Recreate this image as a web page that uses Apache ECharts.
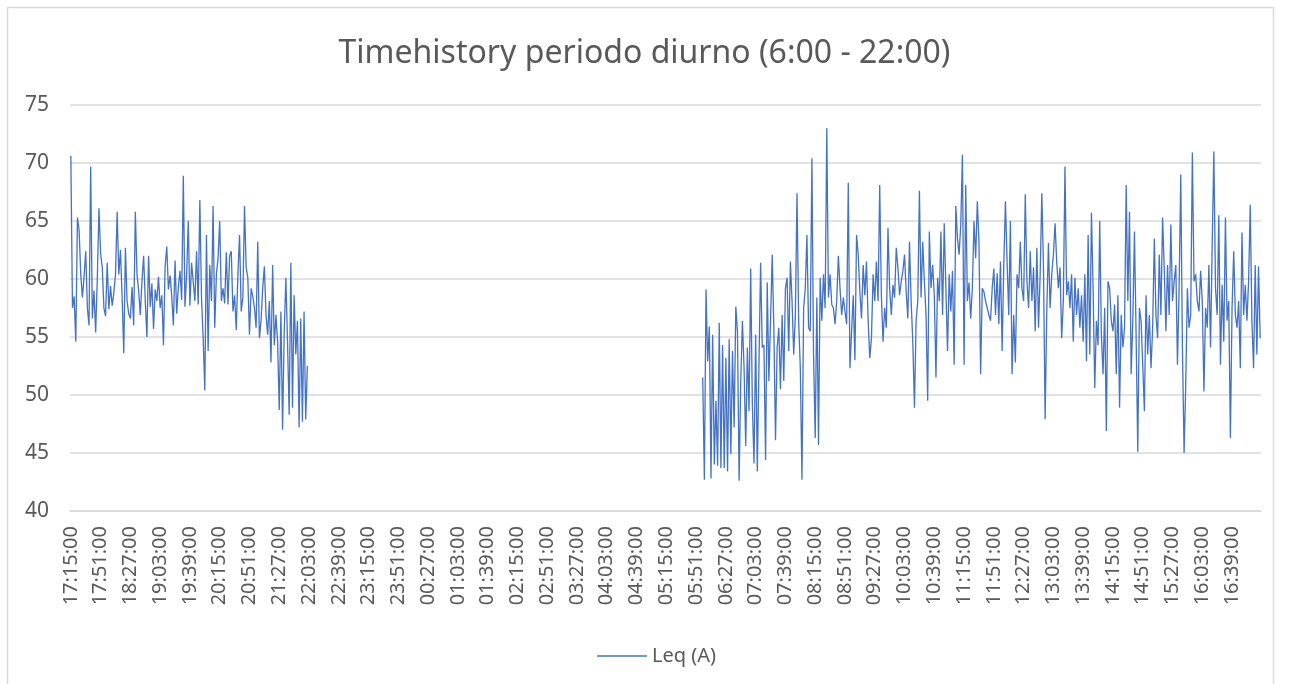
<!DOCTYPE html>
<html>
<head>
<meta charset="utf-8">
<title>Timehistory periodo diurno</title>
<script src="https://cdn.jsdelivr.net/npm/echarts@6/dist/echarts.min.js"></script>
<style>
  html, body { margin: 0; padding: 0; background: #fff; }
  #chart { width: 1289px; height: 684px; }
</style>
</head>
<body>
<div id="chart"></div>
<script>
// time axis: one category every 2 minutes starting 17:15:00, one day long
const startTime = "17:15:00";
const stepMinutes = 2;
const categoryCount = 720;
const labelEvery = 18; // a label every 36 minutes

const yTicks = [40, 45, 50, 55, 60, 65, 70, 75];

// Leq (A), evening 17:15 - 22:00
const eveningLeq = [
  70.6, 57.5, 58.5, 54.6, 65.3, 64.2, 60.4, 58.4, 60.2, 62.4,
  57.5, 56, 69.7, 56.6, 59, 55.4, 60, 66.1, 62.2, 61,
  57.5, 56.8, 61.4, 57.4, 59.4, 57.7, 58.8, 60.4, 65.8, 60.4,
  62.5, 58.5, 53.6, 62.7, 58.1, 57, 56.6, 59.3, 56, 65.8,
  60.4, 59, 56.9, 59.8, 62, 58.1, 55, 62, 57.6, 59.6,
  55.7, 59.1, 58.1, 60.2, 57.5, 58.6, 54.3, 61.1, 62.8, 59.1,
  60.3, 58.5, 56, 61.6, 57, 59.3, 60.7, 58.2, 68.9, 57.6,
  60.3, 65, 57.7, 61.4, 61.5, 58.1, 62.4, 57.8, 66.8, 58.4,
  54.9, 50.4, 63.8, 53.8, 61.2, 58.1, 66.3, 55.8, 60.4, 61.8,
  65, 58.1, 59.2, 57.9, 62.3, 57.8, 62, 62.4, 57.2, 58.6,
  55.6, 60.4, 63.8, 57.2, 58.4, 66.3, 61, 60.1, 55.2, 59.2,
  58.5, 57.5, 55.8, 63.2, 54.9, 56.4, 59.2, 61.1, 56.9, 55.2,
  58.1, 52.8, 61.2, 54.3, 56.9, 54.6, 48.7, 57.2, 47, 55.5,
  60.1, 54.6, 48.3, 61.4, 48.9, 58.6, 53.5, 56.4, 47.2, 56.6,
  47.7, 57.2, 47.9, 52.5
];

// Leq (A), day 06:00 - 17:14
const dayStartIndex = 382;
const dayLeq = [
  51.5, 42.7, 59.1, 52.9, 55.9, 42.8, 55.2, 44, 49.5, 43.9,
  56.2, 43.7, 54.3, 43.7, 53.2, 43.4, 54.8, 44.9, 53.8, 47.2,
  57.6, 55.5, 42.6, 51.2, 56.4, 52.3, 45.6, 54.1, 48.6, 60.9,
  49.2, 44.1, 55.2, 43.4, 52.6, 61.4, 54.1, 54.3, 44.4, 59.7,
  51.2, 56.4, 62.1, 55.8, 46.1, 54.1, 55.8, 50.5, 56.9, 51.2,
  59.2, 60.1, 53.8, 61.5, 58.1, 53.5, 56.9, 67.4, 56.4, 52.3,
  42.7, 57.5, 59.2, 63.8, 55.8, 55.5, 70.4, 53.5, 46.3, 58.4,
  45.7, 60.1, 56.4, 60.4, 57.5, 73, 58.4, 60.4, 57.8, 57.5,
  56.1, 58.1, 62, 59.2, 56.9, 58.4, 57.2, 56.1, 68.3, 52.3,
  55.5, 58.6, 53, 63.8, 62.1, 58.9, 56.6, 61.2, 58.6, 61.5,
  56.4, 53.2, 54.9, 60.4, 58.1, 61.5, 58.1, 68.1, 58.6, 54.6,
  57.5, 55.8, 64.4, 59.2, 56.9, 59.5, 58.4, 62.7, 61, 58.6,
  59.8, 60.7, 62.1, 58.9, 56.6, 63.2, 58.1, 54.6, 48.9, 56.4,
  58.1, 67.6, 58.4, 63.2, 59.8, 56.9, 49.5, 64.1, 59.2, 61.2,
  58.6, 51.5, 60.1, 58.1, 64.1, 56.9, 64.8, 59.2, 53.8, 60.4,
  57.2, 60.7, 52.6, 66.3, 63.5, 62.1, 64.7, 70.7, 52.6, 68.1,
  58.1, 59.7, 56.6, 59.2, 65, 61.8, 66.7, 63.2, 51.8, 59.2,
  58.9, 58.1, 57.5, 56.9, 56.4, 59.2, 60.9, 56.9, 60.5, 56.1,
  61.5, 53.8, 61.2, 66.7, 61.5, 56.9, 65, 51.8, 56.9, 52.8,
  60.4, 59.2, 63.2, 59.2, 58.1, 67.3, 59.8, 57.5, 62.4, 58.1,
  61, 55.5, 62.7, 55.8, 60.4, 67.4, 61, 47.9, 57.2, 63.1,
  57.5, 60.4, 62.1, 64.8, 61.5, 59.2, 61, 54.9, 58.1, 69.7,
  58.6, 59.8, 57.5, 60.4, 54.6, 60.1, 56.9, 59.2, 55.8, 58.6,
  54.6, 60.4, 52.9, 63.8, 53.5, 65.7, 59.2, 50.6, 56.4, 54.3,
  65, 55.2, 51.8, 57.5, 46.9, 59.8, 59.2, 56.4, 55.5, 57.8,
  51.8, 58.6, 48.9, 56.9, 54.1, 55.8, 68.1, 58.1, 65.8, 51.8,
  56.4, 64.1, 55.2, 45.1, 57.5, 56.4, 52.6, 48.6, 58.6, 53.5,
  56.9, 52.3, 55.8, 63.5, 56.9, 54.9, 62.1, 56.9, 65.3, 61,
  55.5, 61.2, 56.9, 64.7, 58.1, 59.8, 61.2, 52.6, 59.2, 69,
  54.1, 45, 50.9, 59.2, 55.8, 56.9, 70.9, 59.8, 60.4, 58.1,
  57.2, 60.7, 58.1, 50.3, 57.5, 55.8, 61.2, 54.1, 63, 71,
  59.2, 56.9, 65.5, 52.6, 59.5, 54.6, 65.3, 56.4, 58.1, 46.3,
  57.5, 62.4, 56.9, 55.8, 58.1, 52.3, 64, 56.9, 59.5, 56.4,
  59.8, 66.4, 56.4, 52.3, 61.2, 53.5, 61.1, 54.9
];

function pad(n) {
  return n < 10 ? "0" + n : "" + n;
}

const startParts = startTime.split(":");
const startMin = Number(startParts[0]) * 60 + Number(startParts[1]);
const categories = [];
for (let i = 0; i < categoryCount; i++) {
  const m = (startMin + i * stepMinutes) % 1440;
  categories.push(pad(Math.floor(m / 60)) + ":" + pad(m % 60) + ":00");
}

// nothing was measured between the two periods
const gap = new Array(dayStartIndex - eveningLeq.length).fill(null);
const leqData = eveningLeq.concat(gap, dayLeq);

const textColor = "#595959";
const gridColor = "#d9d9d9";
const lineColor = "#4472C4";
const font = "'Noto Sans', sans-serif";

const option = {
  animation: false,
  title: {
    text: "Timehistory periodo diurno (6:00 - 22:00)",
    left: "center",
    top: 33,
    textStyle: {
      color: textColor,
      fontSize: 32,
      fontWeight: "normal",
      fontFamily: font,
    },
  },
  legend: {
    left: 592,
    top: 641,
    icon: "rect",
    itemWidth: 50,
    itemHeight: 1.6,
    itemGap: 6,
    itemStyle: { color: lineColor },
    textStyle: {
      color: textColor,
      fontSize: 20,
      fontFamily: font,
    },
    data: ["Leq (A)"],
  },
  grid: {
    left: 70,
    right: 28,
    top: 105,
    bottom: 173,
  },
  xAxis: {
    type: "category",
    data: categories,
    boundaryGap: true,
    axisTick: { show: false },
    axisLine: { lineStyle: { color: gridColor, width: 1.5 } },
    axisLabel: {
      rotate: 90,
      margin: 15,
      color: textColor,
      fontSize: 20,
      fontFamily: font,
      interval: function (index) {
        return index % labelEvery === 0;
      },
    },
  },
  yAxis: {
    type: "value",
    min: yTicks[0],
    max: yTicks[yTicks.length - 1],
    interval: yTicks[1] - yTicks[0],
    axisLine: { show: false },
    axisTick: { show: false },
    axisLabel: {
      margin: 21,
      color: textColor,
      fontSize: 21,
      fontFamily: font,
    },
    splitLine: {
      lineStyle: { color: gridColor, width: 1.5 },
    },
  },
  series: [
    {
      name: "Leq (A)",
      type: "line",
      data: leqData,
      symbol: "none",
      sampling: null,
      connectNulls: false,
      lineStyle: { color: lineColor, width: 1.3 },
      itemStyle: { color: lineColor },
    },
  ],
  graphic: [
    {
      type: "rect",
      shape: { x: 7.5, y: 7.5, width: 1266, height: 700 },
      style: { fill: "none", stroke: gridColor, lineWidth: 1.5 },
      silent: true,
    },
  ],
};

const myChart = echarts.init(document.getElementById("chart"));
myChart.setOption(option);
</script>
</body>
</html>
